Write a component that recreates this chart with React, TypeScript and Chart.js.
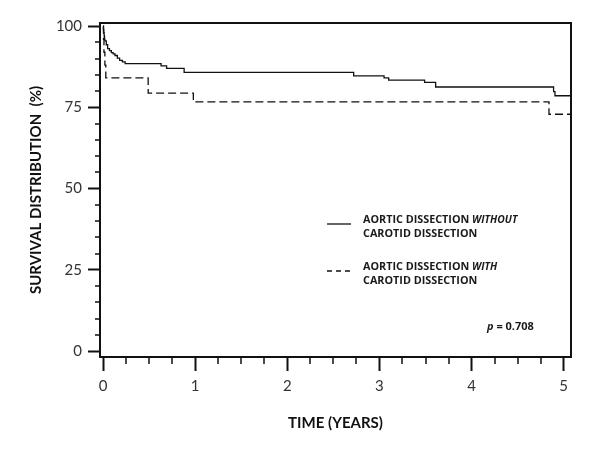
import React, { useEffect, useRef } from "react";
import { Chart, registerables } from "chart.js";

Chart.register(...registerables);

// Kaplan-Meier step data (time in years, survival in %)
const withoutCarotidTimes = [0, 0.004, 0.008, 0.012, 0.016, 0.02, 0.035, 0.05, 0.07, 0.09, 0.11, 0.13, 0.155, 0.18, 0.21, 0.24, 0.63, 0.69, 0.88, 2.72, 3.05, 3.1, 3.49, 3.61, 4.89, 4.905, 5.08];
const withoutCarotidSurvival = [100, 99, 98, 97, 96, 95.5, 94.3, 93.1, 92.5, 91.9, 91.5, 91.0, 90.2, 89.5, 89.0, 88.5, 87.8, 87.0, 85.8, 84.7, 84.1, 83.4, 82.7, 81.3, 79.9, 78.6, 78.6];
const withCarotidTimes = [0, 0.005, 0.01, 0.02, 0.03, 0.49, 0.98, 4.84, 5.08];
const withCarotidSurvival = [100, 96, 92, 88, 84.1, 79.4, 76.7, 72.9, 72.9];

const xMajorTicks = [0, 1, 2, 3, 4, 5];
const xMinorTicks = [0.25, 0.5, 0.75, 1.25, 1.5, 1.75, 2.25, 2.5, 2.75, 3.25, 3.5, 3.75, 4.25, 4.5, 4.75];
const yMajorTicks = [0, 25, 50, 75, 100];
const yMinorTicks = [5, 10, 15, 20, 30, 35, 40, 45, 55, 60, 65, 70, 80, 85, 90, 95];

const seriesLabelMain = ["AORTIC DISSECTION", "AORTIC DISSECTION"];
const seriesLabelEmph = ["WITHOUT", "WITH"];
const seriesLabelSecond = ["CAROTID DISSECTION", "CAROTID DISSECTION"];
const pValueText = "0.708";

const xTitle = "TIME (YEARS)";
const yTitle = "SURVIVAL DISTRIBUTION  (%)";

const toPoints = (xs: number[], ys: number[]) => xs.map((x, i) => ({ x, y: ys[i] }));

const framePlugin = {
  id: "kmFrame",
  afterDraw(chart: any) {
    const { ctx, chartArea, scales } = chart;
    const xs = scales.x;
    const ys = scales.y;
    ctx.save();
    ctx.strokeStyle = "#111";
    // frame
    ctx.lineWidth = 2;
    ctx.strokeRect(chartArea.left, chartArea.top, chartArea.right - chartArea.left, chartArea.bottom - chartArea.top);
    // minor ticks
    ctx.lineWidth = 1.5;
    ctx.beginPath();
    xMinorTicks.forEach((v) => {
      const px = Math.round(xs.getPixelForValue(v));
      ctx.moveTo(px, chartArea.bottom);
      ctx.lineTo(px, chartArea.bottom + 7);
    });
    yMinorTicks.forEach((v) => {
      const py = Math.round(ys.getPixelForValue(v));
      ctx.moveTo(chartArea.left - 5, py);
      ctx.lineTo(chartArea.left, py);
    });
    ctx.stroke();

    // legend
    const lx = chartArea.left + 227;
    const rowTop = [chartArea.top + 197, chartArea.top + 244];
    const datasets = chart.data.datasets;
    ctx.fillStyle = "#1a1a1a";
    ctx.textBaseline = "middle";
    rowTop.forEach((y, i) => {
      const ds = datasets[i];
      ctx.save();
      ctx.lineWidth = 1.3;
      ctx.setLineDash(i === 1 ? [5, 4] : []);
      ctx.beginPath();
      ctx.moveTo(lx, y + 4);
      ctx.lineTo(lx + 24, y + 4);
      ctx.strokeStyle = ds.borderColor;
      ctx.stroke();
      ctx.restore();
      const tx = lx + 36;
      ctx.font = "bold 10.8px 'Open Sans'";
      const main = seriesLabelMain[i] + " ";
      ctx.fillText(main, tx, y);
      const w = ctx.measureText(main).width;
      ctx.font = "italic bold 10.3px 'Open Sans'";
      ctx.fillText(seriesLabelEmph[i], tx + w, y);
      ctx.font = "bold 10.8px 'Open Sans'";
      ctx.fillText(seriesLabelSecond[i], tx, y + 14);
    });

    // p value
    const px0 = chartArea.left + 387;
    const py0 = chartArea.top + 304;
    ctx.font = "italic bold 11px 'Open Sans'";
    ctx.fillText("p", px0, py0);
    const pw = ctx.measureText("p").width;
    ctx.font = "bold 11px 'Open Sans'";
    ctx.fillText(" = " + pValueText, px0 + pw, py0);
    ctx.restore();
  },
};

export default function App() {
  const canvasRef = useRef<HTMLCanvasElement | null>(null);

  useEffect(() => {
    if (!canvasRef.current) return;
    const chart = new Chart(canvasRef.current, {
      type: "line",
      data: {
        datasets: [
          {
            label: "AORTIC DISSECTION WITHOUT CAROTID DISSECTION",
            data: toPoints(withoutCarotidTimes, withoutCarotidSurvival),
            borderColor: "#111",
            borderWidth: 1.3,
            pointRadius: 0,
            stepped: "before",
            fill: false,
          },
          {
            label: "AORTIC DISSECTION WITH CAROTID DISSECTION",
            data: toPoints(withCarotidTimes, withCarotidSurvival),
            borderColor: "#111",
            borderWidth: 1.3,
            borderDash: [8, 4],
            pointRadius: 0,
            stepped: "before",
            fill: false,
          },
        ],
      },
      options: {
        animation: false,
        responsive: false,
        layout: { padding: { top: 23, right: 29, bottom: 0, left: 0 } },
        plugins: {
          legend: { display: false },
          tooltip: { enabled: false },
          title: { display: false },
        },
        scales: {
          x: {
            type: "linear",
            min: -0.033,
            max: 5.079,
            afterBuildTicks: (scale: any) => {
              scale.ticks = xMajorTicks.map((v) => ({ value: v }));
            },
            afterFit: (scale: any) => {
              scale.height = 93;
            },
            grid: {
              drawOnChartArea: false,
              drawTicks: true,
              tickLength: 14,
              tickWidth: 2,
              tickColor: "#111",
            },
            border: { display: false },
            ticks: {
              color: "#333",
              font: { family: "Lato", size: 15 },
              padding: 6,
              maxRotation: 0,
              callback: (v: any) => String(v),
            },
            title: {
              display: true,
              text: xTitle,
              color: "#111",
              font: { family: "Lato", size: 15, weight: "bold" },
              padding: { top: 0, bottom: 18 },
            },
          },
          y: {
            type: "linear",
            min: -1.84,
            max: 101.0,
            afterBuildTicks: (scale: any) => {
              scale.ticks = yMajorTicks.map((v) => ({ value: v }));
            },
            afterFit: (scale: any) => {
              scale.width = 100;
            },
            grid: {
              drawOnChartArea: false,
              drawTicks: true,
              tickLength: 12,
              tickWidth: 2,
              tickColor: "#111",
            },
            border: { display: false },
            ticks: {
              color: "#333",
              font: { family: "Lato", size: 15 },
              padding: 6,
              callback: (v: any) => String(v),
            },
            title: {
              display: true,
              text: yTitle,
              color: "#111",
              font: { family: "Lato", size: 15, weight: "bold" },
              padding: { top: 27, bottom: 0 },
            },
          },
        },
      },
      plugins: [framePlugin],
    } as any);
    return () => chart.destroy();
  }, []);

  return (
    <div style={{ position: "absolute", left: 0, top: 0, width: 600, height: 450, background: "#fff" }}>
      <canvas ref={canvasRef} width={600} height={450} style={{ display: "block" }} />
    </div>
  );
}
